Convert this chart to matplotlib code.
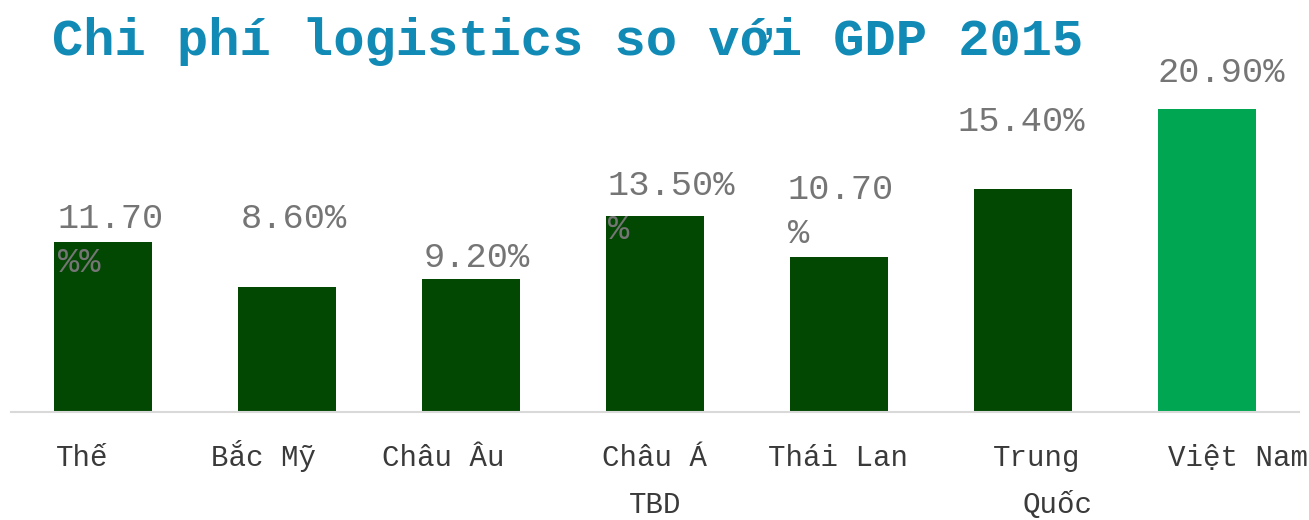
import matplotlib.pyplot as plt

# data
categories = ["Thế", "Bắc Mỹ", "Châu Âu", "Châu Á\nTBD", "Thái Lan", "Trung\nQuốc", "Việt Nam"]
values = [11.7, 8.6, 9.2, 13.5, 10.7, 15.4, 20.9]
value_labels = ["11.70\n%%", "8.60%", "9.20%", "13.50%\n%", "10.70\n%", "15.40%", "20.90%"]
highlight = "Việt Nam"

# label placement (pixels)
lab_dx = [4, 3, 2, 2, -2, -16, 0]
lab_dy = [-14, -59, -12, -21, -58, -58, -27]
tick_dx = [[-47], [-76], [-89], [-53, -26], [-71], [-30, 0], [-39]]

dark = "#024702"
bright = "#00A651"
mono = "Liberation Mono"

fig = plt.figure(figsize=(13.09, 5.2), dpi=100)
ax = fig.add_axes([11 / 1309, 108 / 520, 1288 / 1309, 372 / 520])

x = list(range(len(values)))
colors = [bright if c.replace("\n", " ") == highlight else dark for c in categories]
width = 0.538
bars = ax.bar(x, values, width=width, color=colors, zorder=2)

ax.set_xlim(-0.5, len(values) - 0.5)
ax.set_ylim(0, 25.66)
for s in ["top", "left", "right"]:
    ax.spines[s].set_visible(False)
ax.spines["bottom"].set_color("#d9d9d9")
ax.spines["bottom"].set_linewidth(1.5)
ax.set_xticks([])
ax.set_yticks([])

# value labels
for b, txt, dx, dy in zip(bars, value_labels, lab_dx, lab_dy):
    for k, line in enumerate(txt.split("\n")):
        ax.annotate(line, xy=(b.get_x(), b.get_height()), xytext=(dx, -dy - 44 * k),
                    textcoords="offset pixels", ha="left", va="baseline",
                    fontsize=25.5, family=mono, color="#757575", zorder=3)

# category labels
for xi, cat, dxs in zip(x, categories, tick_dx):
    for k, (line, dx) in enumerate(zip(cat.split("\n"), dxs)):
        ax.annotate(line, xy=(xi, 0), xytext=(dx, -54 - 47 * k),
                    textcoords="offset pixels", ha="left", va="baseline",
                    fontsize=21, family=mono, color="#3a3a3a", annotation_clip=False)

fig.text(52 / 1309, 1 - 55 / 520, "Chi phí logistics so với GDP 2015",
         fontsize=37.5, family=mono, weight="bold", color="#118AB5",
         ha="left", va="baseline")

fig.savefig("out.png", dpi=100)
